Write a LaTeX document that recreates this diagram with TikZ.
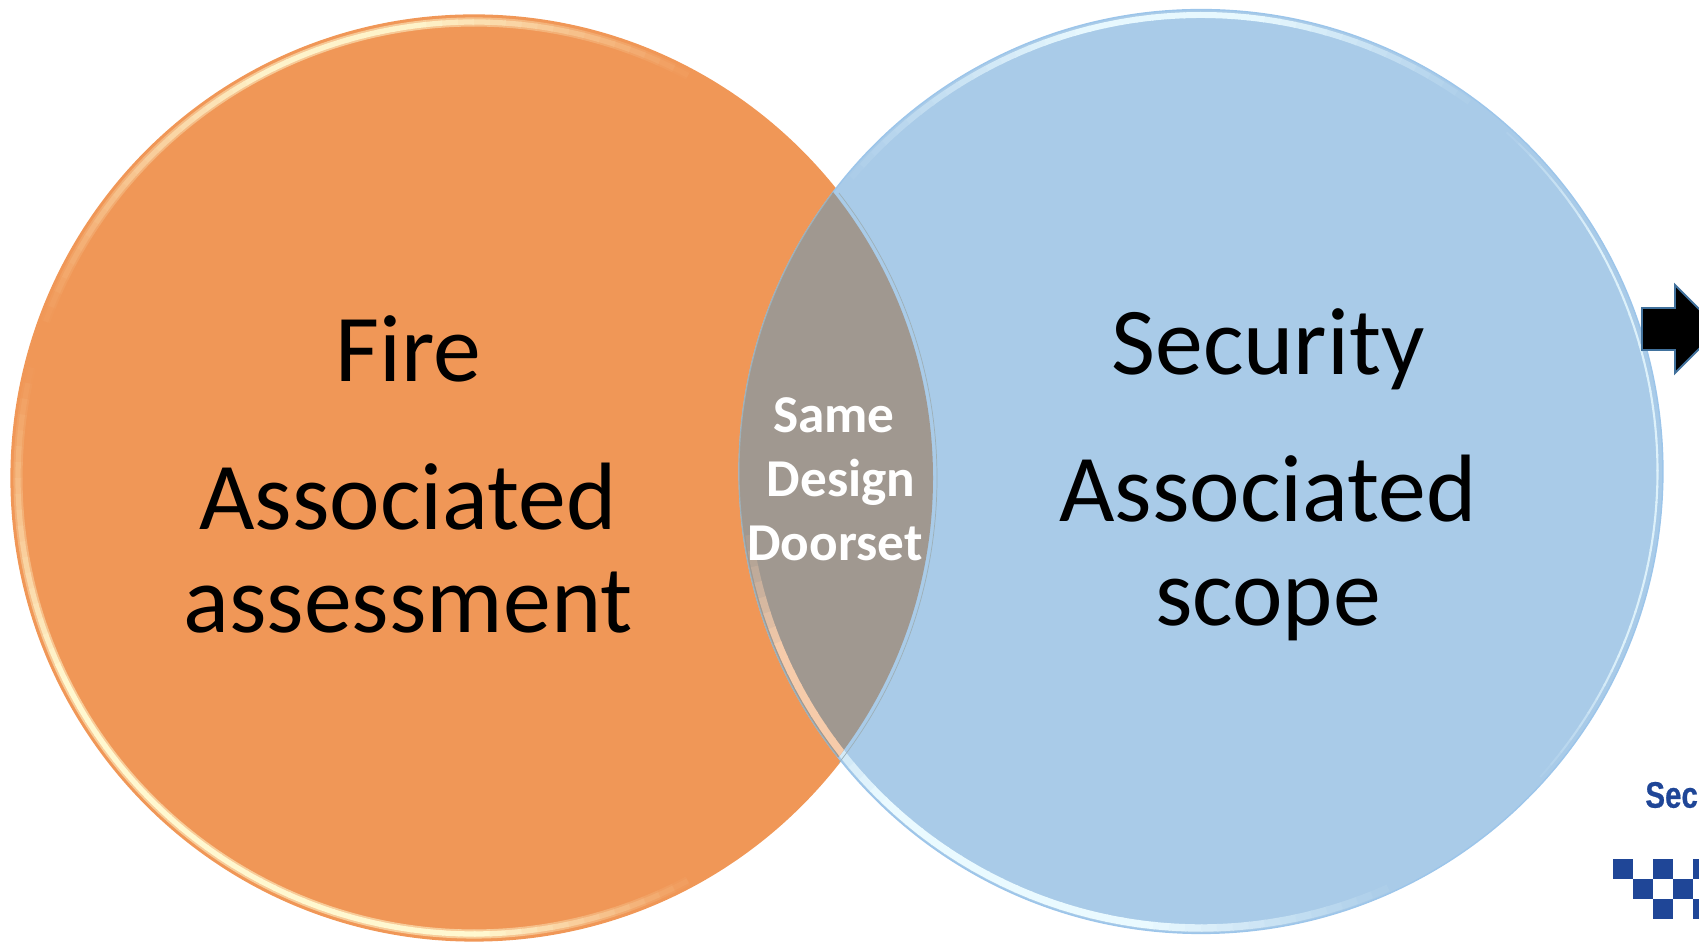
\documentclass[tikz,border=0pt]{standalone}
\usepackage{fontspec}
\setmainfont{Carlito}
\newfontfamily\logofont[FakeStretch=0.8,FakeBold=0.5]{Liberation Sans}
\definecolor{fireorange}{HTML}{F09757}
\definecolor{firecream}{HTML}{FFF8D0}
\definecolor{secblue}{HTML}{A9CBE8}
\definecolor{secedge}{HTML}{9CC5EA}
\definecolor{secpale}{HTML}{EAFAFF}
\definecolor{lensgrey}{HTML}{A09890}
\definecolor{lenspeach}{HTML}{F6CBAA}
\definecolor{lensline}{HTML}{9DB0B8}
\definecolor{logoblue}{HTML}{1F4697}
\definecolor{arrowedge}{HTML}{41719C}
\begin{document}
\begin{tikzpicture}[
    x = 0.02cm, y = 0.02cm,
    declare function = {rimtrap(\t,\a,\b,\c,\d) = max(0,min(1,min((\t-\a)/(\b-\a),(\d-\t)/(\d-\c))));},
    firedisc/.style = {shape = circle, draw = fireorange, fill = fireorange, line width = 0.8pt, minimum size = 18.52cm, inner sep = 0},
    secdisc/.style = {shape = circle, draw = secedge, fill = secblue, line width = 0.8pt, minimum size = 18.48cm, inner sep = 0},
    bigtext/.style = {font = \fontsize{54.5}{58.7}\selectfont, text = black, align = center, inner sep = 0},
    lenstext/.style = {font = \fontsize{30.3}{36}\selectfont\bfseries, text = white, inner sep = 0},
    logobox/.style = {fill = logoblue, minimum size = 0.39cm, inner sep = 0, anchor = north west},
    ]
    \useasboundingbox (0,0) rectangle (1699,942);
    \clip (0,0) rectangle (1699,942);
    % discs
    \node[firedisc] (fire) at (474,464) {};
    % rim of the orange disc
    \foreach \ang in {60,62,...,298} {
        \pgfmathsetmacro\mixval{100*max(0.95*rimtrap(\ang,60,96,116,160),rimtrap(\ang,165,205,270,298))}
        \draw[line width = 5.2pt, color = firecream!\mixval!fireorange, opacity = 0.55] (474,464) ++(\ang:456) arc[start angle = \ang, end angle = \ang+2, radius = 456];
        \draw[line width = 3pt, color = firecream!\mixval!fireorange] (474,464) ++(\ang:456) arc[start angle = \ang, end angle = \ang+2.2, radius = 456];
    }
    \node[secdisc] (sec) at (1201,470.5) {};
    % rim of the blue disc
    \foreach \ang in {-44,-42,...,140} {
        \pgfmathsetmacro\mixval{100*max(0.95*rimtrap(\ang,52,82,104,140),0.8*rimtrap(\ang,-44,-25,30,48))}
        \pgfmathsetmacro\rimwd{\ang>50 ? 3.4 : 1.2}
        \draw[line width = \rimwd pt, color = secpale!\mixval!secblue] (1201,470.5) ++(\ang:456.5) arc[start angle = \ang, end angle = \ang+2.2, radius = 456.5];
    }
    \foreach \ang in {216,218,...,292} {
        \pgfmathsetmacro\mixval{100*rimtrap(\ang,205,225,262,294)}
        \draw[line width = 4.2pt, color = secpale!\mixval!secblue] (1201,470.5) ++(\ang:456.5) arc[start angle = \ang, end angle = \ang+2.2, radius = 456.5];
    }
    % overlap
    \begin{scope}
        \clip (474,464) circle (459);
        \fill[lensgrey] (1201,470.5) circle (462);
        \foreach \ang in {186,188,...,222} {
            \pgfmathsetmacro\mixval{100*rimtrap(\ang,186,202,240,260)}
            \draw[line width = 4.2pt, color = lenspeach!\mixval!lensgrey] (1201,470.5) ++(\ang:456.5) arc[start angle = \ang, end angle = \ang+2.2, radius = 456.5];
        }
    \end{scope}
    \draw[lensline, line width = 0.4pt] (474,464) ++(-38:463) arc[start angle = -38, end angle = 38, radius = 463];
    \draw[lensline, line width = 0.6pt] (1201,470.5) ++(143:462) arc[start angle = 143, end angle = 218, radius = 462];
    % arrow
    \draw[arrowedge, fill = black, line width = 1.1pt] (1642,634) -- (1675,634) -- (1675,657) -- (1719,613) -- (1675,569) -- (1675,592) -- (1642,592) -- cycle;
    % logo
    \node[font = \logofont\fontsize{21}{24}\selectfont\bfseries, text = logoblue, anchor = west, inner sep = 0] (logotext) at (1645,147) {Sec};
    \foreach \px/\py in {1613/83, 1653/83, 1693/83, 1633/63, 1673/63, 1653/43, 1693/43} {
        \node[logobox] at (\px,\py) {};
    }
    % labels
    \node[bigtext] (firetitle) at (408,593) {Fire};
    \node[bigtext] (firebody) at (408,394) {Associated\\assessment};
    \node[bigtext] (sectitle) at (1268,593) {Security};
    \node[bigtext] (secbody) at (1268,394) {Associated\\scope};
    \node[lenstext] (same) at (834,527) {Same};
    \node[lenstext] (design) at (841,460) {Design};
    \node[lenstext] (doorset) at (835,399) {Doorset};
\end{tikzpicture}
\end{document}
